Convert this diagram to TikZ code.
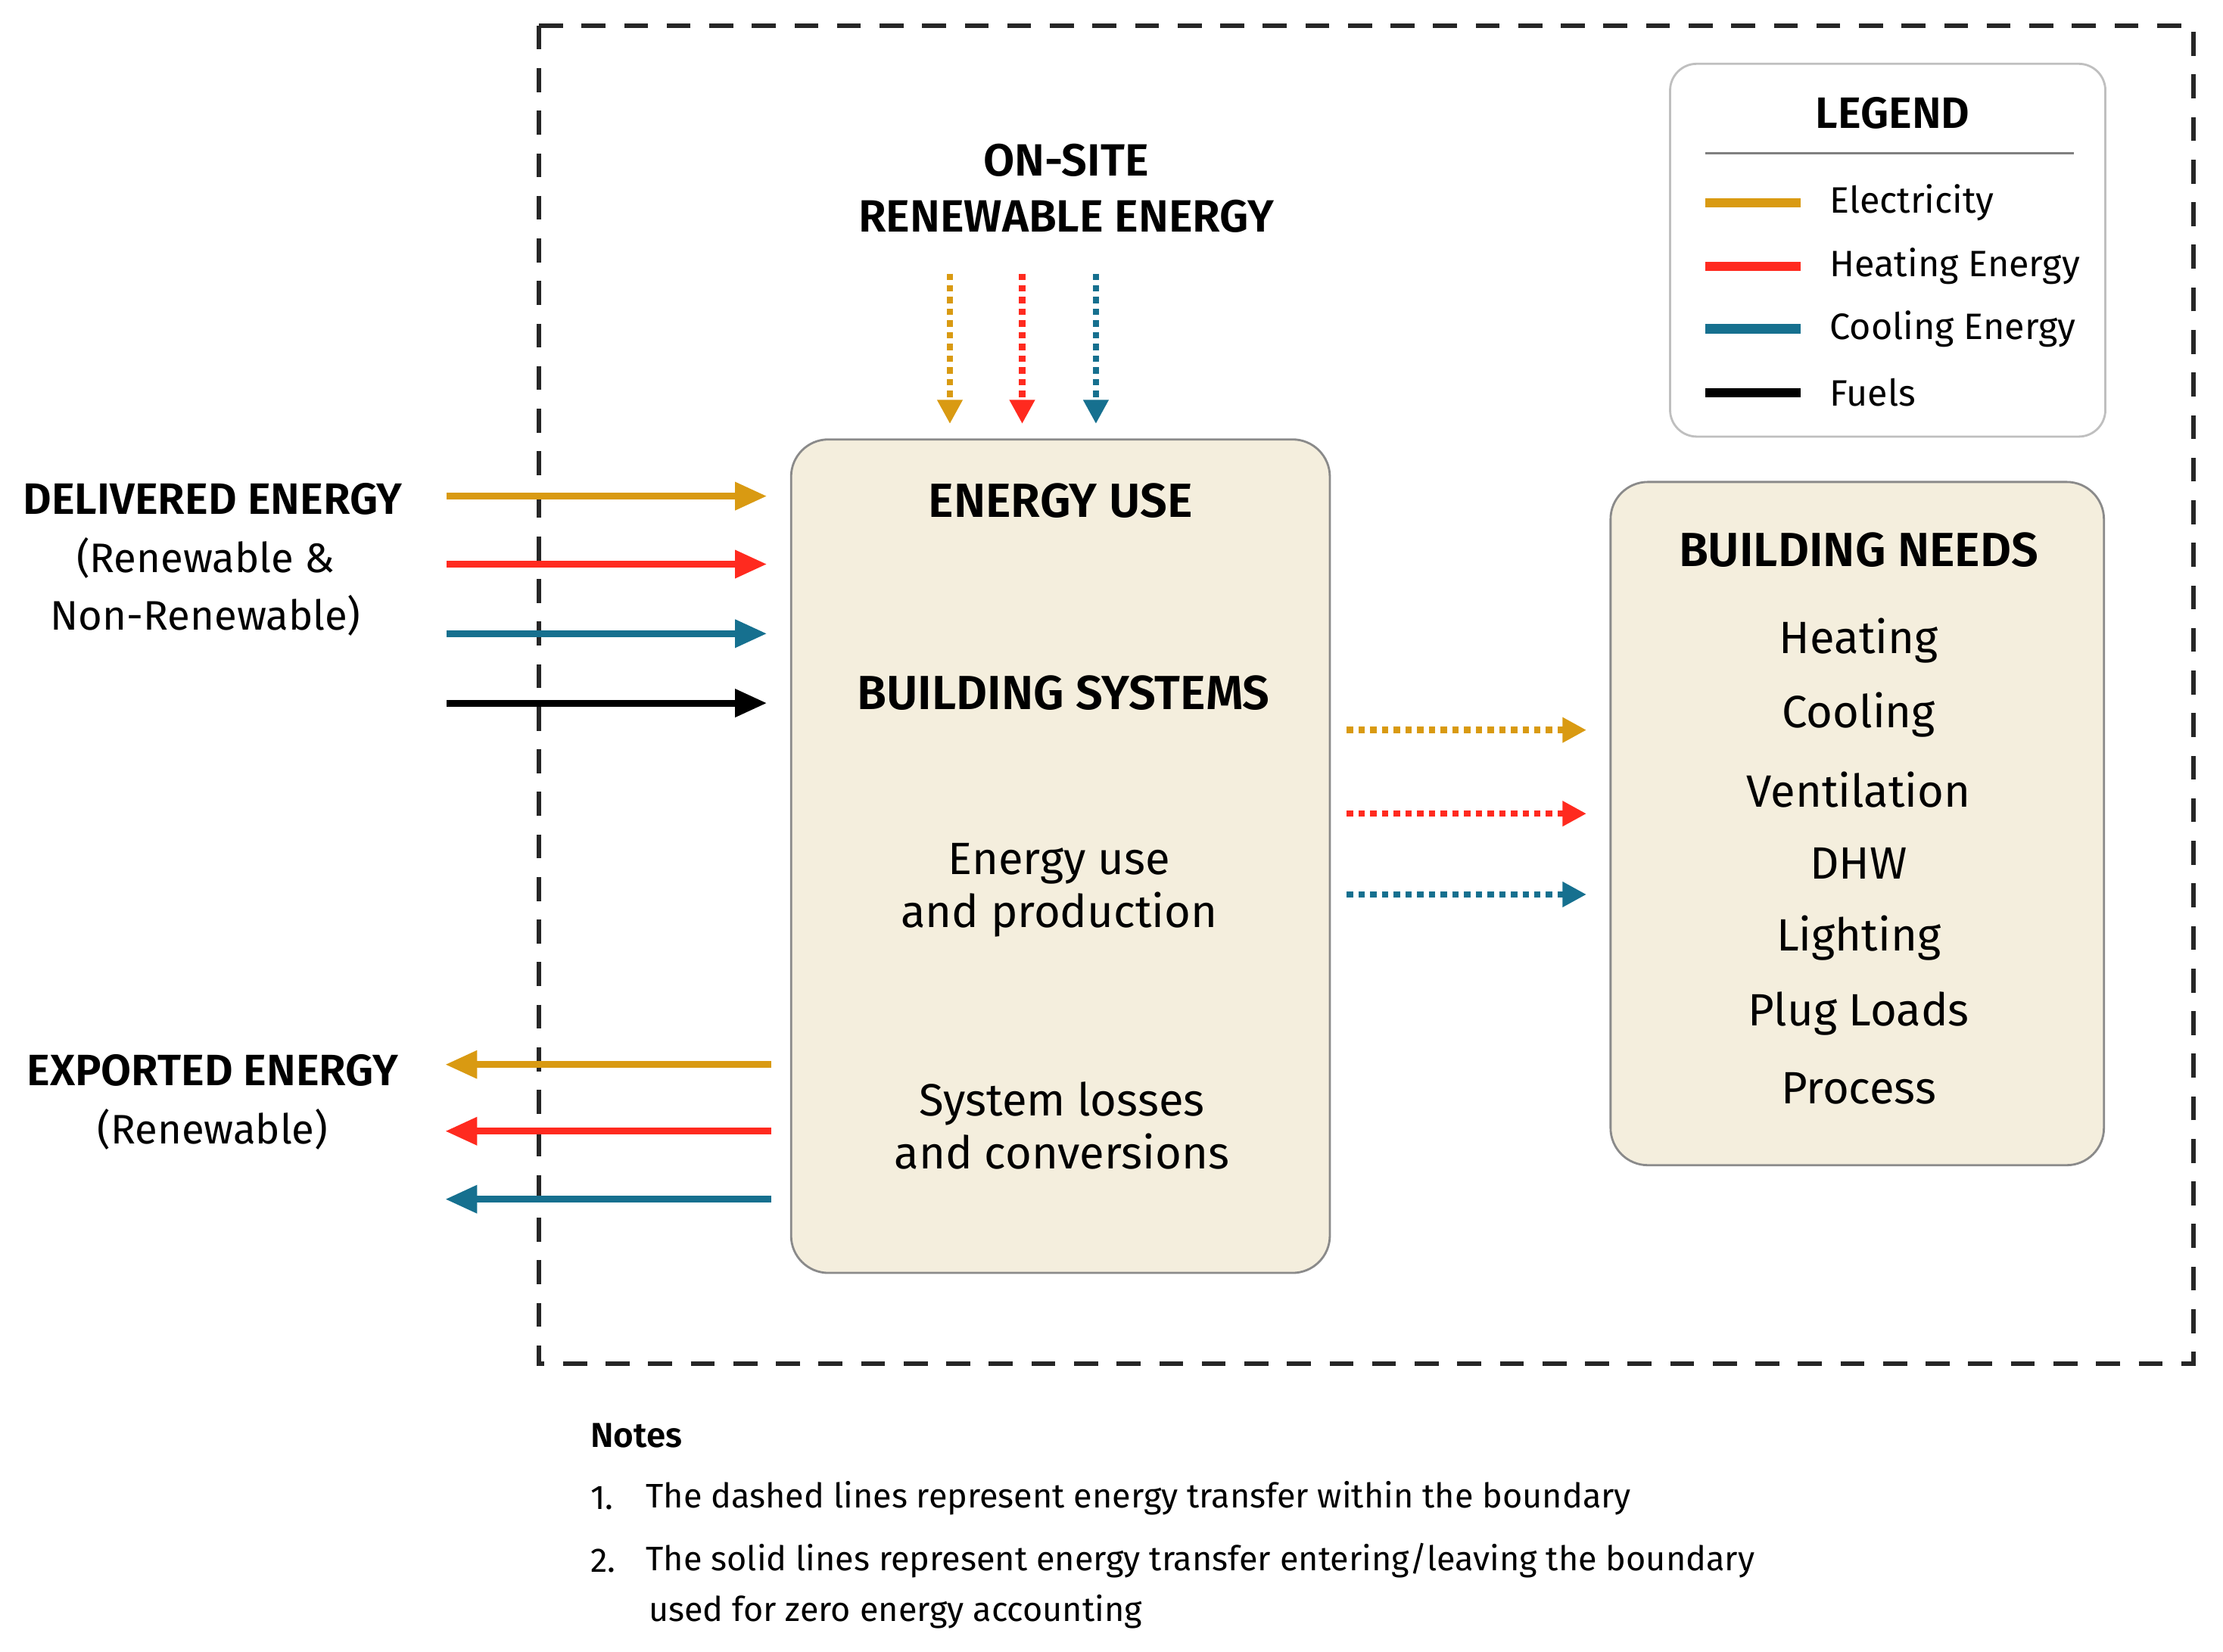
\documentclass[tikz,border=0pt]{standalone}
\usepackage{fontspec}
\setmainfont{Fira Sans}[BoldFont={Fira Sans SemiBold}]
\usetikzlibrary{arrows.meta}
\definecolor{elec}{HTML}{D99A12}
\definecolor{heat}{HTML}{FF2A1F}
\definecolor{cool}{HTML}{16708F}
\definecolor{boxfill}{HTML}{F4EEDD}
\definecolor{boxdraw}{HTML}{8A8A8A}
\begin{document}
\begin{tikzpicture}[x=0.01873cm,y=-0.01873cm,
  flow/.style={line width=2.6pt,-{Triangle[length=12pt,width=10pt]}},
  dflow/.style={line width=2.4pt,dotted,-{Triangle[length=9pt,width=9pt]}},
  box/.style={draw=boxdraw,fill=boxfill,rounded corners=14pt,line width=0.8pt},
  head/.style={font=\fontsize{18}{20}\selectfont\bfseries},
  item/.style={font=\fontsize{17}{20}\selectfont},
  leg/.style={font=\fontsize{13.8}{16}\selectfont,anchor=west},
  note/.style={font=\fontsize{12.8}{15}\selectfont,anchor=west}]
\useasboundingbox (0,0) rectangle (1568,1165);
\draw[line width=1.6pt,dash pattern=on 9pt off 7pt,draw=black!85] (380,18) rectangle (1547,962);
% legend
\draw[draw=black!25,rounded corners=10pt,line width=0.8pt,fill=white] (1178,45) rectangle (1485,308);
\node[font=\fontsize{16.5}{18}\selectfont\bfseries] (lt) at (1335,80) {LEGEND};
\draw[black!50,line width=1pt] (1203,108) -- (1463,108);
\foreach \c/\t/\y [count=\i] in {elec/Electricity/143,heat/Heating Energy/188,cool/Cooling Energy/232,black/Fuels/277}{
  \coordinate (la\i) at (1203,\y); \coordinate (lb\i) at (1270,\y);
  \draw[\c,line width=3.5pt] (la\i) -- (lb\i);
  \node[leg] (lg\i) at (1284,\y) {\t};
}
% boxes
\draw[box] (558,310) rectangle (938,898);
\node[head] (eu) at (748,353) {ENERGY USE};
\node[head] (bs) at (750,489) {BUILDING SYSTEMS};
\node[item,align=center] (ep) at (747,628) {Energy use\\and production};
\node[item,align=center] (sl) at (749,794) {System losses\\and conversions};
\draw[box] (1136,340) rectangle (1484,822);
\node[head] (bn) at (1311,388) {BUILDING NEEDS};
\foreach \t/\y [count=\i] in {Heating/452,Cooling/504,Ventilation/557,DHW/609,Lighting/662,Plug Loads/715,Process/768}
  \node[item] (n\i) at (1311,\y) {\t};
% on-site
\node[align=center,font=\fontsize{17}{21}\selectfont\bfseries] (os) at (752,133) {ON-SITE\\RENEWABLE ENERGY};
\foreach \c/\x [count=\i] in {elec/670,heat/721,cool/773}{
  \coordinate (os\i) at (\x,193); \coordinate (oe\i) at (\x,299);
  \draw[dflow,\c] (os\i) -- (oe\i);
}
\foreach \c/\y [count=\i] in {elec/515,heat/574,cool/631}{
  \coordinate (rs\i) at (950,\y); \coordinate (re\i) at (1119,\y);
  \draw[dflow,\c] (rs\i) -- (re\i);
}
% delivered
\node[font=\fontsize{16.5}{18}\selectfont\bfseries] (de) at (150,352) {DELIVERED ENERGY};
\node[font=\fontsize{15.5}{21.5}\selectfont,align=center] (dr) at (145,414) {(Renewable \&\\Non-Renewable)};
\foreach \c/\y [count=\i] in {elec/350,heat/398,cool/447,black/496}{
  \coordinate (ds\i) at (315,\y); \coordinate (dd\i) at (541,\y);
  \draw[flow,\c] (ds\i) -- (dd\i);
}
% exported
\node[font=\fontsize{16.5}{18}\selectfont\bfseries] (ex) at (150,755) {EXPORTED ENERGY};
\node[font=\fontsize{15.5}{18}\selectfont] (exr) at (150,797) {(Renewable)};
\foreach \c/\y [count=\i] in {elec/751,heat/798,cool/846}{
  \coordinate (xs\i) at (544,\y); \coordinate (xd\i) at (314,\y);
  \draw[flow,\c] (xs\i) -- (xd\i);
}
% notes
\node[note,font=\fontsize{13}{15}\selectfont\bfseries] (nt) at (410,1013) {Notes};
\node[note] (n1a) at (410,1057) {1.};
\node[note] (n1) at (449,1057) {The dashed lines represent energy transfer within the boundary};
\node[note] (n2a) at (410,1101) {2.};
\node[note] (n2) at (449,1101) {The solid lines represent energy transfer entering/leaving the boundary};
\node[note] (n2b) at (451,1137) {used for zero energy accounting};
\end{tikzpicture}
\end{document}
